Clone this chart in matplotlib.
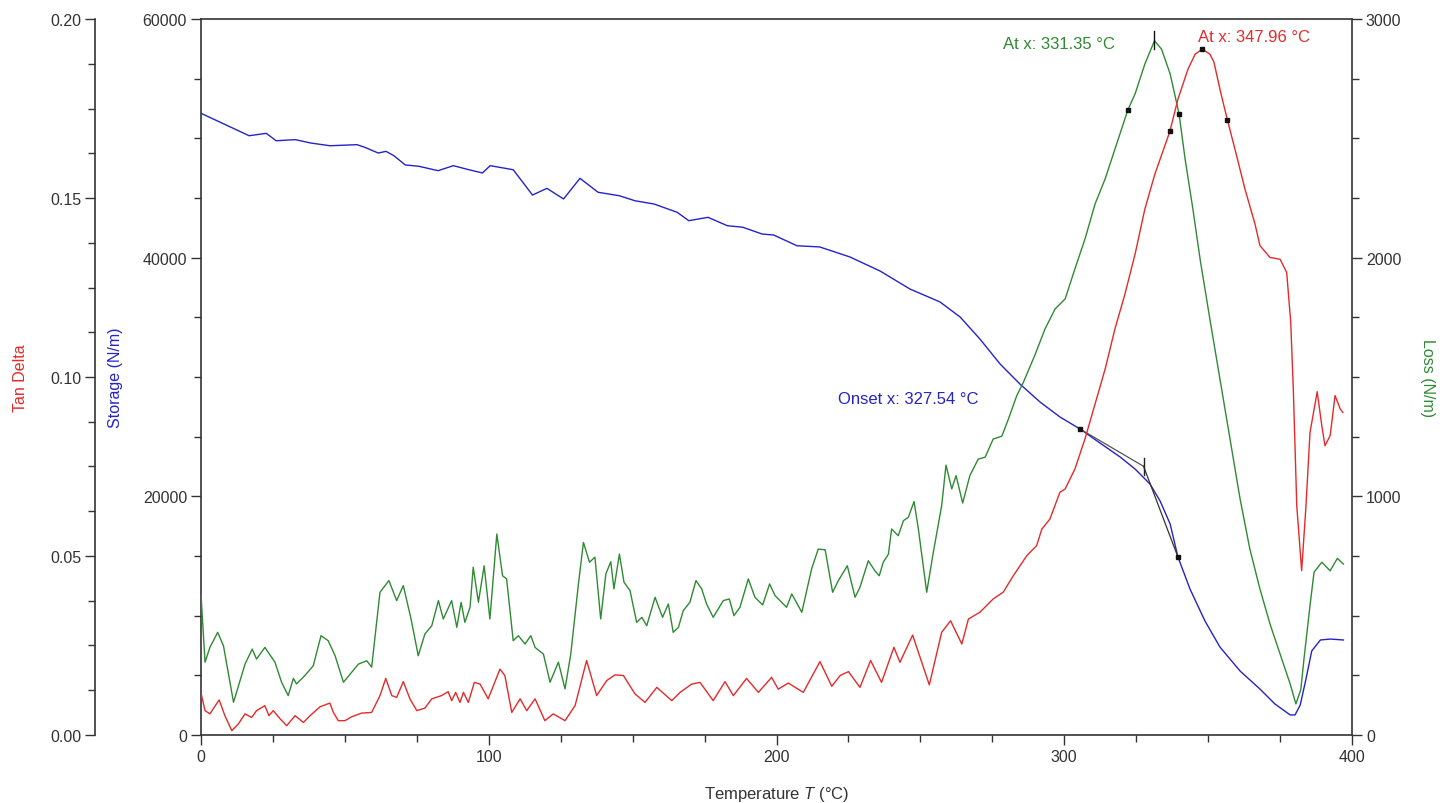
import matplotlib
matplotlib.use("Agg")
from matplotlib import pyplot as plt
from matplotlib.ticker import MultipleLocator, FormatStrFormatter

plt.rcParams['font.family'] = ['Liberation Sans', 'DejaVu Sans']
plt.rcParams['mathtext.fontset'] = 'custom'
plt.rcParams['mathtext.rm'] = 'Liberation Sans'
plt.rcParams['mathtext.it'] = 'Liberation Sans:italic'

# Storage modulus (N/m) vs temperature
t_storage = [0, 8, 16.7, 22.7, 26.1, 32.8, 38.1, 44.8, 54.2, 56.9, 61.6, 64.3, 67, 71, 75.7,
             82.4, 87.7, 93.1, 97.8, 100.5, 108.5, 115.2, 120.2, 126, 131.7, 138, 145.4,
             150.8, 157.4, 165.5, 169.5, 176.2, 182.9, 188.3, 195, 199, 207.1, 215, 225.5,
             236, 246.4, 256.8, 263.8, 270.7, 277.7, 284.6, 291.6, 298.5, 305.5, 312.4,
             319.4, 324.6, 329.8, 333.3, 336.8, 339.5, 343.7, 348.9, 354.1, 361.1, 368,
             373.2, 378.5, 380.2, 382, 384, 386, 389, 392.5, 397]
storage = [52100, 51200, 50220, 50420, 49800, 49890, 49610, 49380, 49470, 49250, 48770,
           48910, 48550, 47770, 47660, 47290, 47710, 47370, 47100, 47710, 47370, 45250,
           45810, 44920, 46650, 45480, 45190, 44770, 44500, 43800, 43100, 43380, 42680,
           42550, 41980, 41900, 41000, 40900, 40060, 38880, 37370, 36290, 35030, 33180,
           31090, 29410, 27900, 26650, 25640, 24470, 23300, 22290, 21030, 19610, 17680,
           14920, 12230, 9550, 7370, 5360, 3850, 2600, 1680, 1680, 2510, 4690, 7040, 7960,
           8040, 7960]

# Loss modulus (N/m)
t_loss = [0, 1.4, 3.1, 5.8, 7.8, 11.3, 15.3, 17.8, 19.3, 22.2, 25.7, 28, 30.3, 32.1, 33.2,
          36.1, 39, 41.7, 44.2, 46.6, 49.5, 52.4, 54.7, 57.6, 59.3, 62.2, 65.3, 68, 70.3, 73,
          75.5, 77.8, 80.2, 82.5, 84.2, 87.1, 88.9, 90.4, 91.7, 93.5, 94.6, 96.4, 98.4,
          100.4, 102.8, 104.8, 106.2, 108.5, 110.3, 112.6, 114.6, 116.1, 119, 121.3, 124.2,
          126.5, 128.5, 131.1, 132.9, 135, 136.9, 138.9, 140.7, 142.4, 143.5, 145.4, 147,
          149.1, 151.4, 153.2, 154.9, 157.8, 160.4, 162.4, 164.1, 165.9, 167.6, 169.9, 172,
          174, 175.7, 178, 181.5, 183.6, 185.2, 187.3, 190.2, 192.5, 195.2, 197.6, 199.5,
          203.5, 205.3, 208.8, 212.2, 214.5, 216.9, 219.5, 221.5, 224.6, 227.3, 229, 231.9,
          234.2, 235.7, 237.1, 238.9, 240, 242.3, 244.1, 245.8, 247.8, 249.3, 252.2, 254.5,
          257.4, 258.9, 260.9, 262.4, 264.7, 267.2, 270.1, 272.5, 275.3, 278.3, 280.6,
          283.5, 285.8, 289.8, 293.3, 296.8, 300.3, 303.7, 307.2, 310.7, 314.2, 317.6,
          322.1, 324.6, 328, 331.35, 333.8, 336.8, 339.9, 342, 344.7, 347.2, 350.6, 354.1,
          357.6, 361.1, 364.5, 368, 371.5, 375, 378.5, 380.5, 382.2, 383.3, 385.4, 386.8,
          389.5, 392.4, 394.9, 397]
loss = [590, 305, 367, 430, 374, 137, 297, 360, 318, 367, 305, 221, 165, 237, 214, 249,
        290, 416, 395, 332, 221, 263, 297, 311, 284, 598, 647, 563, 626, 486, 332, 423, 458,
        563, 486, 563, 451, 556, 472, 535, 703, 556, 709, 486, 842, 667, 654, 395, 416, 381,
        416, 367, 339, 221, 305, 193, 339, 626, 807, 724, 745, 486, 675, 726, 612, 758, 640,
        605, 472, 493, 458, 577, 493, 549, 430, 451, 521, 556, 647, 612, 549, 493, 563, 570,
        500, 535, 654, 577, 545, 633, 584, 535, 591, 514, 696, 779, 776, 598, 647, 709, 577,
        619, 730, 688, 667, 724, 758, 863, 835, 898, 912, 978, 863, 598, 766, 961, 1131,
        1031, 1087, 972, 1087, 1156, 1164, 1240, 1252, 1324, 1422, 1478, 1592, 1701, 1785,
        1827, 1953, 2078, 2225, 2330, 2455, 2619, 2686, 2811, 2909, 2874, 2770, 2602, 2413,
        2204, 1994, 1743, 1492, 1240, 989, 779, 612, 465, 339, 214, 130, 190, 318, 542, 682,
        724, 688, 740, 716]

# Tan delta
t_tan = [0.2, 1.4, 3.1, 6.3, 8.3, 10.7, 13, 15.3, 17.6, 19.3, 22.2, 23.6, 25.1, 27.5, 29.8,
         32.7, 35.6, 37.9, 41.4, 44.8, 46, 47.7, 50, 52.4, 55.8, 59.3, 62.2, 64.2, 66.3, 68,
         70.3, 72.6, 75, 77.8, 80.2, 83.6, 85.9, 87.1, 88.5, 90, 91.2, 92.9, 95, 97, 99.8,
         103.9, 105.6, 108, 110.9, 113.2, 116.1, 119.5, 122.4, 126.5, 130, 134, 137.5, 141,
         143.9, 146.8, 150.8, 154.3, 158.4, 163.6, 166.5, 170.5, 173.4, 178, 182.1, 185,
         189.6, 193.7, 198.3, 200.6, 204.1, 209.3, 215.1, 219.2, 222.1, 225, 229, 232.7,
         236.5, 240.8, 242.9, 247.3, 253.1, 257.4, 260.5, 264.4, 266.7, 270.7, 275.3,
         278.8, 282.3, 287, 290.4, 292.2, 295, 298.5, 300.3, 303.7, 307.2, 310.7, 314.2,
         317.6, 321.1, 324.6, 328, 331.5, 336.7, 339.5, 343, 345.5, 347.96, 350.6, 352,
         354.5, 356.7, 359.3, 362.8, 366.3, 368, 371.5, 375, 377.3, 378.7, 379.6, 380.8,
         382.5, 384, 385.4, 387.9, 389.5, 390.6, 392.4, 394.1, 395.9, 396.8]
tan_delta = [0.0110, 0.0068, 0.0059, 0.0098, 0.0054, 0.0012, 0.0031, 0.0059, 0.0049, 0.0068,
             0.0082, 0.0054, 0.0068, 0.0045, 0.0026, 0.0054, 0.0035, 0.0054, 0.0079, 0.0089,
             0.0063, 0.0040, 0.0040, 0.0051, 0.0061, 0.0063, 0.0110, 0.0158, 0.0110, 0.0105,
             0.0149, 0.0101, 0.0068, 0.0075, 0.0101, 0.0110, 0.0121, 0.0096, 0.0119, 0.0091,
             0.0119, 0.0091, 0.0147, 0.0142, 0.0101, 0.0184, 0.0166, 0.0063, 0.0101, 0.0068,
             0.0101, 0.0040, 0.0059, 0.0040, 0.0082, 0.0208, 0.0110, 0.0152, 0.0168, 0.0166,
             0.0115, 0.0091, 0.0133, 0.0096, 0.0119, 0.0142, 0.0147, 0.0096, 0.0149, 0.0110,
             0.0158, 0.0119, 0.0161, 0.0128, 0.0145, 0.0119, 0.0205, 0.0136, 0.0166, 0.0177,
             0.0133, 0.0208, 0.0147, 0.0245, 0.0203, 0.0279, 0.0140, 0.0287, 0.0319, 0.0254,
             0.0324, 0.0343, 0.0380, 0.0399, 0.0445, 0.0501, 0.0529, 0.0575, 0.0603, 0.0678,
             0.0687, 0.0743, 0.0827, 0.0924, 0.1022, 0.1134, 0.1232, 0.1343, 0.1469, 0.1567,
             0.1686, 0.1776, 0.1860, 0.1902, 0.1916, 0.1902, 0.1880, 0.1790, 0.1718, 0.1637,
             0.1525, 0.1427, 0.1367, 0.1334, 0.1329, 0.1292, 0.1153, 0.0966, 0.0640, 0.0459,
             0.0640, 0.0845, 0.0959, 0.0864, 0.0808, 0.0836, 0.0948, 0.0911, 0.0901]

# analysis results
onset_t, onset_s = 327.54, 22520
tangent1 = ([305.5, onset_t], [25640, onset_s])
tangent2 = ([onset_t, 339.5], [onset_s, 14920])
loss_peak_t, loss_peak = 331.35, 2909
loss_marks = ([322.1, 339.9], [2619, 2602])
tan_peak_t, tan_peak = 347.96, 0.1916
tan_marks = ([336.7, 356.7], [0.1686, 0.1718])

BLUE = "#2323c8"
GREEN = "#2f8a34"
RED = "#e42a2a"
AXC = "#333333"
TICK_FS = 11.5
LABEL_FS = 11.5
NOTE_FS = 12

fig = plt.figure(figsize=(14.44, 8.04), dpi=100)
ax = fig.add_axes([0.1392, 0.0846, 0.7971, 0.8905])
ax_loss = ax.twinx()
ax_tan = ax.twinx()

ax.plot(t_storage, storage, c=BLUE, lw=1.0)
ax_loss.plot(t_loss, loss, c=GREEN, lw=1.0)
ax_tan.plot(t_tan, tan_delta, c=RED, lw=1.0)

# onset construction on storage
ax.plot(*tangent1, c="#555555", lw=0.9)
ax.plot(*tangent2, c="#333333", lw=0.9)
ax.plot([onset_t, onset_t], [21790, 23190], c="#222222", lw=1.0)
ax.plot([tangent1[0][0], tangent2[0][1]], [tangent1[1][0], tangent2[1][1]], ls="none",
        marker="s", ms=2.5, c="#111111")
ax.text(245.7, 28160, "Onset x: 327.54 °C", color=BLUE, fontsize=NOTE_FS, ha="center", va="center")

# loss peak
ax_loss.plot([loss_peak_t, loss_peak_t], [2874, 2951], c="#111111", lw=1.0)
ax_loss.plot(*loss_marks, ls="none", marker="s", ms=2.5, c="#111111")
ax_loss.text(298.2, 2899, "At x: 331.35 °C", color=GREEN, fontsize=NOTE_FS, ha="center", va="center")

# tan delta peak
ax_tan.plot([tan_peak_t], [tan_peak], ls="none", marker="s", ms=2.5, c="#111111")
ax_tan.plot(*tan_marks, ls="none", marker="s", ms=2.5, c="#111111")
ax_tan.text(365.9, 0.1952, "At x: 347.96 °C", color=RED, fontsize=NOTE_FS, ha="center", va="center")

ax.set_xlim(0, 400)
ax.set_ylim(0, 60000)
ax_loss.set_ylim(0, 3000)
ax_tan.set_ylim(0, 0.2)

ax.xaxis.set_major_locator(MultipleLocator(100))
ax.xaxis.set_minor_locator(MultipleLocator(25))
ax.yaxis.set_major_locator(MultipleLocator(20000))
ax.yaxis.set_minor_locator(MultipleLocator(5000))
ax_loss.yaxis.set_major_locator(MultipleLocator(1000))
ax_loss.yaxis.set_minor_locator(MultipleLocator(250))
ax_tan.yaxis.set_major_locator(MultipleLocator(0.05))
ax_tan.yaxis.set_minor_locator(MultipleLocator(0.0125))
ax_tan.yaxis.set_major_formatter(FormatStrFormatter('%.2f'))

# tan delta axis on the far left
ax_tan.yaxis.set_ticks_position('left')
ax_tan.yaxis.set_label_position('left')
ax_tan.spines['left'].set_position(('axes', -0.0921))
ax_tan.spines['left'].set_visible(True)
for s in ['right', 'top', 'bottom']:
    ax_tan.spines[s].set_visible(False)
for s in ['left', 'top', 'bottom']:
    ax_loss.spines[s].set_visible(False)
ax.spines['right'].set_visible(False)

for a in (ax, ax_loss, ax_tan):
    for s in a.spines.values():
        s.set_color(AXC)
        s.set_linewidth(1.2)
    a.tick_params(which='major', direction='out', length=7, width=1.0, color=AXC,
                  labelsize=TICK_FS, labelcolor=AXC, pad=3)
    a.tick_params(which='minor', direction='out', length=5, width=1.0, color=AXC)

ax.set_xlabel("Temperature $T$ (°C)", fontsize=12, color=AXC)
ax.xaxis.set_label_coords(0.5, -0.0685)
ax.set_ylabel("Storage (N/m)", fontsize=LABEL_FS, color=BLUE, va="center")
ax.yaxis.set_label_coords(-0.0747, 0.5)
ax_tan.set_ylabel("Tan Delta", fontsize=LABEL_FS, color=RED, va="center")
ax_tan.yaxis.set_label_coords(-0.1572, 0.5)
ax_loss.set_ylabel("Loss (N/m)", fontsize=LABEL_FS, color=GREEN, rotation=270, va="center")
ax_loss.yaxis.set_label_coords(1.066, 0.5)

fig.savefig("out.png", dpi=100)
